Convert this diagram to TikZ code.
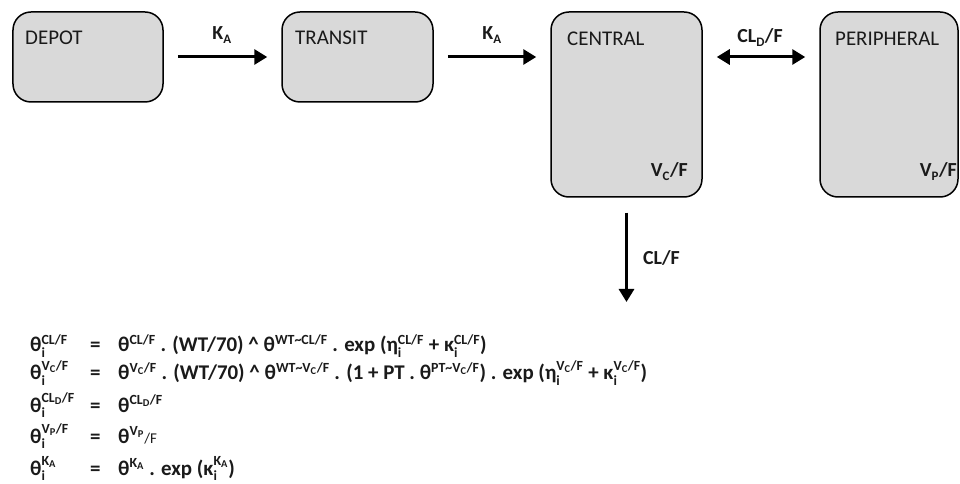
\documentclass[tikz,border=0pt]{standalone}
\usepackage{fontspec}
\setmainfont{Carlito}
\usepackage{amsmath}
\usetikzlibrary{arrows.meta}
\DeclareMathSizes{21}{21}{14}{10.5}
\DeclareMathSizes{20}{20}{13}{10}
\definecolor{boxgray}{HTML}{D9D9D9}
\definecolor{ink}{HTML}{1A1A1A}
\newcommand{\tx}[1]{\text{#1}}
\newcommand{\tld}{\textasciitilde}
\begin{document}
\begin{tikzpicture}[x=1bp,y=-1bp,
  comp/.style={draw=black,line width=1.5bp,fill=boxgray,rounded corners=18bp,inner sep=0pt},
  cname/.style={anchor=base west,font=\fontsize{21}{25}\selectfont,text=ink,inner sep=0pt},
  lab/.style={font=\bfseries\fontsize{20}{24}\selectfont,text=ink,inner sep=0pt},
  flow/.style={line width=3bp,-{Triangle[length=13bp,width=15bp]}},
  flow2/.style={line width=3bp,{Triangle[length=13bp,width=15bp]}-{Triangle[length=13bp,width=15bp]}},
  eq/.style={anchor=base west,inner sep=0pt,text=ink,font=\bfseries\fontsize{21}{25}\selectfont}]
\useasboundingbox (0,0) rectangle (960,484);
% compartments
\node[comp,minimum width=150bp,minimum height=90bp] (dep) at (88,57) {};
\node[comp,minimum width=151bp,minimum height=90bp] (tra) at (357.5,57) {};
\node[comp,minimum width=151bp,minimum height=185bp] (cen) at (626.5,104.5) {};
\node[comp,minimum width=138bp,minimum height=185bp] (per) at (889,104.5) {};
% compartment names
\node[cname] (depn) at (25,45) {DEPOT};
\node[cname] (tran) at (295,45) {TRANSIT};
\node[cname] (cenn) at (567,46) {CENTRAL};
\node[cname] (pern) at (835,46) {PERIPHERAL};
\node[lab,anchor=base east] (vc) at (688,177) {V$_{\tx{C}}$/F};
\node[lab,anchor=base east] (vp) at (957,177) {V$_{\tx{P}}$/F};
% connectors
\draw[flow,shorten <=14bp,shorten >=14bp] (dep.east) -- (tra.west);
\draw[flow,shorten <=14bp,shorten >=14bp] (tra.east) -- (tra.east -| cen.west);
\draw[flow2,shorten <=14bp,shorten >=14bp] (cen.east |- tra.east) -- (per.west |- tra.east);
\coordinate (sink) at (626.5,302);
\draw[flow,shorten <=15bp] (cen.south) -- (sink);
% connector labels
\node[lab,anchor=base] (ka1) at (222,40) {K$_{\tx{A}}$};
\node[lab,anchor=base] (ka2) at (492,40) {K$_{\tx{A}}$};
\node[lab,anchor=base] (cld) at (760,43) {CL$_{\tx{D}}$/F};
\node[lab,anchor=west] (clf) at (643,258) {CL/F};
% equations
\node[eq] (l1) at (30,352) {θ$_{\tx{i}}^{\tx{CL/F}}$};
\node[eq] (l2) at (30,380) {θ$_{\tx{i}}^{\tx{V}_{\tx{C}}\tx{/F}}$};
\node[eq] (l3) at (30,412) {θ$_{\tx{i}}^{\tx{CL}_{\tx{D}}\tx{/F}}$};
\node[eq] (l4) at (30,443) {θ$_{\tx{i}}^{\tx{V}_{\tx{P}}\tx{/F}}$};
\node[eq] (l5) at (30,475) {θ$_{\tx{i}}^{\tx{K}_{\tx{A}}}$};
\foreach \r/\yy in {1/352,2/380,3/412,4/443,5/475}
  \node[eq] (e\r) at (90,\yy) {=};
\node[eq] (r1) at (118,352) {θ$^{\tx{CL/F}}$ . (WT/70) \textasciicircum\ θ$^{\tx{WT\tld CL/F}}$ . exp (η$_{\tx{i}}^{\tx{CL/F}}$ + κ$_{\tx{i}}^{\tx{CL/F}}$)};
\node[eq] (r2) at (118,380) {θ$^{\tx{V}_{\tx{C}}\tx{/F}}$ . (WT/70) \textasciicircum\ θ$^{\tx{WT\tld V}_{\tx{C}}\tx{/F}}$ . (1 + PT . θ$^{\tx{PT\tld V}_{\tx{C}}\tx{/F}}$) . exp (η$_{\tx{i}}^{\tx{V}_{\tx{C}}\tx{/F}}$ + κ$_{\tx{i}}^{\tx{V}_{\tx{C}}\tx{/F}}$)};
\node[eq] (r3) at (118,412) {θ$^{\tx{CL}_{\tx{D}}\tx{/F}}$};
\node[eq] (r4) at (118,443) {θ$^{\tx{V}_{\tx{P}}}${\mdseries\fontsize{15}{18}\selectfont/F}};
\node[eq] (r5) at (118,475) {θ$^{\tx{K}_{\tx{A}}}$ . exp (κ$_{\tx{i}}^{\tx{K}_{\tx{A}}}$)};
\end{tikzpicture}
\end{document}
